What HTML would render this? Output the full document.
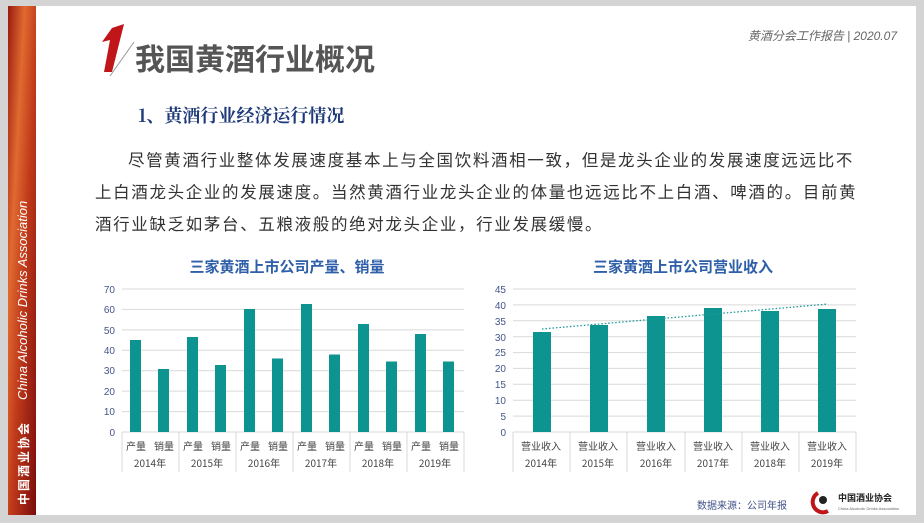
<!DOCTYPE html>
<html><head><meta charset="utf-8"><style>
body{margin:0;width:924px;height:523px;background:#d4d4d4;overflow:hidden;font-family:"Liberation Sans","Noto Sans CJK SC",sans-serif}
svg{display:block}
</style></head><body>
<svg width="924" height="523" viewBox="0 0 924 523" xmlns="http://www.w3.org/2000/svg">
<defs>
<linearGradient id="side" x1="0" y1="0" x2="1" y2="1">
<stop offset="0" stop-color="#9a1a10"/><stop offset="0.3" stop-color="#e06a30"/><stop offset="0.55" stop-color="#c03a1a"/><stop offset="1" stop-color="#7a0c0c"/>
</linearGradient>
</defs>
<rect x="8" y="6" width="908" height="509" fill="#fff"/>
<rect x="8" y="6" width="28" height="509" fill="url(#side)"/>
<text transform="translate(27,400) rotate(-90)" font-size="13" font-style="italic" fill="#fff" font-family="Liberation Sans, sans-serif">China Alcoholic Drinks Association</text>
<text transform="translate(28,505) rotate(-90)" font-size="12" font-weight="bold" fill="#fff" letter-spacing="2" font-family="Noto Sans CJK SC, sans-serif">中国酒业协会</text>
<text x="897" y="40" text-anchor="end" font-size="12" font-style="italic" fill="#666" font-family="Liberation Sans, Noto Sans CJK SC, sans-serif">黄酒分会工作报告 | 2020.07</text>
<polygon points="112,28 124,24 112,72 104,72 110,40 102,42" fill="#c0161a"/>
<line x1="110" y1="76" x2="134" y2="42" stroke="#999" stroke-width="1"/>
<text x="135" y="70" font-size="30" font-weight="bold" fill="#555" font-family="Noto Sans CJK SC, sans-serif">我国黄酒行业概况</text>
<text x="138" y="122" font-size="18" font-weight="bold" fill="#1f3a7a" font-family="Noto Serif CJK SC, serif">1、黄酒行业经济运行情况</text>
<g font-size="16.5" fill="#333" letter-spacing="1.65" font-family="Noto Sans CJK SC, sans-serif">
<text x="128" y="166">尽管黄酒行业整体发展速度基本上与全国饮料酒相一致，但是龙头企业的发展速度远远比不</text>
<text x="95" y="198">上白酒龙头企业的发展速度。当然黄酒行业龙头企业的体量也远远比不上白酒、啤酒的。目前黄</text>
<text x="95" y="230">酒行业缺乏如茅台、五粮液般的绝对龙头企业，行业发展缓慢。</text>
</g>
<g font-size="15" font-weight="bold" fill="#2e5fa8" text-anchor="middle" font-family="Noto Sans CJK SC, sans-serif">
<text x="287" y="272">三家黄酒上市公司产量、销量</text>
<text x="683" y="272">三家黄酒上市公司营业收入</text>
</g>
<g stroke="#d9d9d9" stroke-width="1">
<line x1="122" y1="289" x2="464" y2="289"/><line x1="122" y1="309.4" x2="464" y2="309.4"/><line x1="122" y1="329.9" x2="464" y2="329.9"/><line x1="122" y1="350.3" x2="464" y2="350.3"/><line x1="122" y1="370.7" x2="464" y2="370.7"/><line x1="122" y1="391.1" x2="464" y2="391.1"/><line x1="122" y1="411.6" x2="464" y2="411.6"/><line x1="122" y1="432" x2="464" y2="432"/>
<line x1="122" y1="432" x2="122" y2="472"/><line x1="179" y1="432" x2="179" y2="472"/><line x1="236" y1="432" x2="236" y2="472"/><line x1="293" y1="432" x2="293" y2="472"/><line x1="350" y1="432" x2="350" y2="472"/><line x1="407" y1="432" x2="407" y2="472"/><line x1="464" y1="432" x2="464" y2="472"/>
</g>
<g font-size="10" fill="#44548a" text-anchor="end">
<text x="115" y="293">70</text><text x="115" y="313">60</text><text x="115" y="334">50</text><text x="115" y="354">40</text><text x="115" y="374">30</text><text x="115" y="395">20</text><text x="115" y="415">10</text><text x="115" y="436">0</text>
</g>
<g fill="#0e9490">
<rect x="130" y="340" width="11" height="92"/><rect x="158" y="369" width="11" height="63"/>
<rect x="187" y="337" width="11" height="95"/><rect x="215" y="365" width="11" height="67"/>
<rect x="244" y="309" width="11" height="123"/><rect x="272" y="358.5" width="11" height="73.5"/>
<rect x="301" y="304" width="11" height="128"/><rect x="329" y="354.5" width="11" height="77.5"/>
<rect x="358" y="324" width="11" height="108"/><rect x="386" y="361.5" width="11" height="70.5"/>
<rect x="415" y="334" width="11" height="98"/><rect x="443" y="361.5" width="11" height="70.5"/>
</g>
<g font-size="10" fill="#444" text-anchor="middle" font-family="Noto Sans CJK SC, sans-serif">
<text x="136" y="450">产量</text><text x="164" y="450">销量</text><text x="193" y="450">产量</text><text x="221" y="450">销量</text><text x="250" y="450">产量</text><text x="278" y="450">销量</text><text x="307" y="450">产量</text><text x="335" y="450">销量</text><text x="364" y="450">产量</text><text x="392" y="450">销量</text><text x="421" y="450">产量</text><text x="449" y="450">销量</text>
<text x="150" y="467">2014年</text><text x="207" y="467">2015年</text><text x="264" y="467">2016年</text><text x="321" y="467">2017年</text><text x="378" y="467">2018年</text><text x="435" y="467">2019年</text>
</g>
<g stroke="#d9d9d9" stroke-width="1">
<line x1="513" y1="289" x2="856" y2="289"/><line x1="513" y1="304.9" x2="856" y2="304.9"/><line x1="513" y1="320.8" x2="856" y2="320.8"/><line x1="513" y1="336.7" x2="856" y2="336.7"/><line x1="513" y1="352.6" x2="856" y2="352.6"/><line x1="513" y1="368.4" x2="856" y2="368.4"/><line x1="513" y1="384.3" x2="856" y2="384.3"/><line x1="513" y1="400.2" x2="856" y2="400.2"/><line x1="513" y1="416.1" x2="856" y2="416.1"/><line x1="513" y1="432" x2="856" y2="432"/>
<line x1="513" y1="432" x2="513" y2="472"/><line x1="570" y1="432" x2="570" y2="472"/><line x1="627" y1="432" x2="627" y2="472"/><line x1="685" y1="432" x2="685" y2="472"/><line x1="742" y1="432" x2="742" y2="472"/><line x1="799" y1="432" x2="799" y2="472"/><line x1="856" y1="432" x2="856" y2="472"/>
</g>
<g font-size="10" fill="#44548a" text-anchor="end">
<text x="506" y="293">45</text><text x="506" y="309">40</text><text x="506" y="325">35</text><text x="506" y="341">30</text><text x="506" y="356">25</text><text x="506" y="372">20</text><text x="506" y="388">15</text><text x="506" y="404">10</text><text x="506" y="420">5</text><text x="506" y="436">0</text>
</g>
<g fill="#0e9490">
<rect x="533" y="332" width="18" height="100"/><rect x="590" y="325" width="18" height="107"/><rect x="647" y="316" width="18" height="116"/><rect x="704" y="308" width="18" height="124"/><rect x="761" y="311" width="18" height="121"/><rect x="818" y="309" width="18" height="123"/>
</g>
<line x1="542" y1="329" x2="828" y2="304" stroke="#1a9a96" stroke-width="1.3" stroke-dasharray="1.5,2"/>
<g font-size="10" fill="#444" text-anchor="middle" font-family="Noto Sans CJK SC, sans-serif">
<text x="541" y="450">营业收入</text><text x="598" y="450">营业收入</text><text x="656" y="450">营业收入</text><text x="713" y="450">营业收入</text><text x="770" y="450">营业收入</text><text x="827" y="450">营业收入</text>
<text x="541" y="467">2014年</text><text x="598" y="467">2015年</text><text x="656" y="467">2016年</text><text x="713" y="467">2017年</text><text x="770" y="467">2018年</text><text x="827" y="467">2019年</text>
</g>
<text x="697" y="509" font-size="10" fill="#44548a" font-family="Noto Sans CJK SC, sans-serif">数据来源：公司年报</text>
<path d="M818,493 a10,10 0 1 0 10,18" fill="none" stroke="#c0161a" stroke-width="4"/>
<circle cx="823" cy="500" r="4" fill="#222"/>
<text x="838" y="501" font-size="9" font-weight="bold" fill="#222" font-family="Noto Sans CJK SC, sans-serif">中国酒业协会</text>
<text x="838" y="510" font-size="4" fill="#666">China Alcoholic Drinks Association</text>
</svg>
</body></html>
